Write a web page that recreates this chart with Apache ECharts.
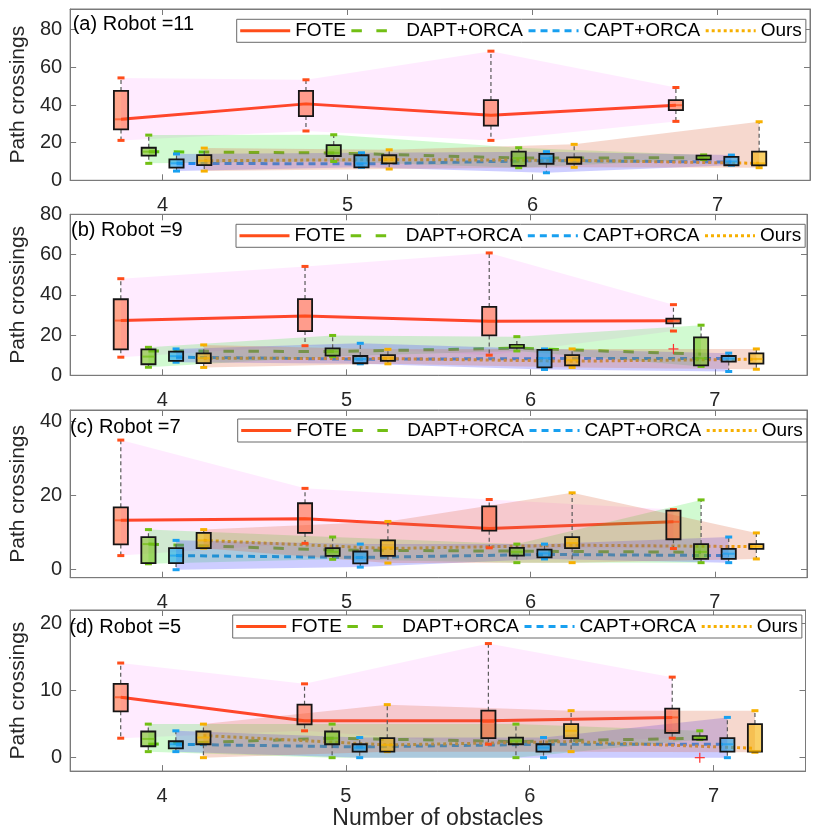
<!DOCTYPE html>
<html><head><meta charset="utf-8">
<script src="https://cdn.jsdelivr.net/npm/echarts@6/dist/echarts.min.js"></script>
<style>html,body{margin:0;padding:0;background:#fff}#c{width:818px;height:831px}</style>
</head><body><div id="c"></div>
<script>
// ---------------- DATA ----------------
const obstacles = [4, 5, 6, 7];
const methods = ['FOTE', 'DAPT+ORCA', 'CAPT+ORCA', 'Ours'];
const panelTitles = ['(a) Robot =11', '(b) Robot =9', '(c) Robot =7', '(d) Robot =5'];
const yTicksA = [0, 20, 40, 60, 80];
const yTicksB = [0, 20, 40, 60, 80];
const yTicksC = [0, 20, 40];
const yTicksD = [0, 10, 20];
const xTicks = [4, 5, 6, 7];

// box statistics per obstacle count: [min, q1, median, q3, max]
const boxA_FOTE = [[21.2, 27, 32.4, 47.5, 54.4], [26.2, 34.1, 40.6, 47.5, 53.4], [21.2, 29, 34.6, 42.6, 68.6], [31.3, 37.3, 39.9, 42.6, 49.3]];
const boxA_DAPT = [[9.0, 13.1, 15.2, 17.3, 24.0], [10, 12.9, 14.6, 18.7, 24.2], [6.7, 7.7, 11.8, 15.2, 17.3], [11, 11.1, 12, 13.1, 13.5]];
const boxA_CAPT = [[4.9, 6.7, 9.0, 11.1, 14], [6.9, 6.9, 9.0, 13.3, 14.6], [4.0, 8.8, 11.7, 14.0, 15.2], [8.0, 8.0, 10, 12.4, 13.4]];
const boxA_OURS = [[4.9, 8.1, 10.4, 13.4, 17.1], [6.0, 9.0, 11.1, 13.3, 16.2], [6.9, 8.8, 10.8, 12.2, 19.1], [6.7, 8.0, 9.0, 15.2, 31.1]];
const lineA_FOTE = [32.4, 40.6, 34.6, 39.9];
const lineA_DAPT = [15.2, 14.5, 11.8, 12.0];
const lineA_CAPT = [9.0, 8.7, 10.5, 9.7];
const lineA_OURS = [10.4, 11.0, 10.6, 9.0];

const boxB_FOTE = [[9.0, 12.9, 27.2, 37.8, 48.0], [14.7, 22.0, 29.5, 37.9, 54.1], [10.0, 19.8, 26.9, 34.0, 60.8], [22.0, 25.8, 27.1, 28.1, 35.1]];
const boxB_DAPT = [[4.0, 5.5, 9.3, 12.9, 13.9], [9.3, 9.8, 11.8, 13.4, 19.8], [12.1, 13.7, 14.4, 15.1, 19.2], [4.4, 4.9, 8.5, 18.8, 24.9]];
const boxB_CAPT = [[6.5, 7.2, 9.5, 11.8, 13.1], [5.7, 6.0, 8.1, 9.6, 15.9], [2.9, 3.9, 8.5, 12.6, 13.1], [1.9, 6.8, 8.3, 9.6, 11.0]];
const boxB_OURS = [[3.9, 6.0, 8.5, 10.9, 15.1], [5.7, 7.2, 8.5, 10.0, 12.9], [3.9, 4.9, 7.5, 10.0, 13.1], [3.0, 5.8, 8.1, 10.9, 13.1]];
const lineB_FOTE = [27.2, 29.5, 26.9, 27.1];
const lineB_DAPT = [12.1, 11.8, 13.5, 10.5];
const lineB_CAPT = [9.0, 8.0, 8.3, 8.3];
const lineB_OURS = [8.5, 8.3, 7.0, 8.0];
const outlierB_FOTE = [[7, 13.1]];

const boxC_FOTE = [[3.8, 6.8, 13.3, 16.8, 34.9], [7.1, 9.9, 13.75, 17.9, 21.9], [5.9, 10.5, 11.1, 17.05, 18.9], [5.7, 8.2, 12.9, 15.9, 16.2]];
const boxC_DAPT = [[1.6, 1.8, 6.9, 8.75, 10.8], [2.8, 3.75, 4.8, 5.8, 8.8], [1.9, 3.8, 4.8, 5.9, 6.9], [1.9, 2.9, 4.8, 6.9, 18.8]];
const boxC_CAPT = [[0, 1.8, 3.8, 5.8, 7.9], [0.7, 1.7, 3.3, 4.9, 6.9], [2.9, 3.3, 4.4, 5.4, 6.9], [1.9, 2.9, 4.3, 5.6, 8.8]];
const boxC_OURS = [[5.8, 5.8, 7.9, 9.9, 10.8], [1.8, 3.75, 6.0, 7.9, 13.0], [1.9, 5.8, 7.2, 8.8, 20.7], [2.9, 5.6, 6.25, 6.9, 9.9]];
const lineC_FOTE = [13.3, 13.75, 11.1, 12.9];
const lineC_DAPT = [6.9, 5.3, 5.0, 4.7];
const lineC_CAPT = [3.8, 3.3, 4.1, 3.8];
const lineC_OURS = [7.9, 5.7, 6.6, 6.2];

const boxD_FOTE = [[2.9, 6.9, 9.0, 11.0, 14.1], [4.0, 4.95, 5.5, 7.9, 11.0], [2.0, 2.9, 5.3, 7.0, 17.0], [2.9, 3.7, 6.0, 7.3, 12.0]];
const boxD_DAPT = [[0.9, 1.7, 2.8, 3.9, 5.0], [0, 2.0, 2.9, 3.9, 5.0], [0, 2.0, 2.5, 3.0, 5.0], [2.7, 2.7, 3.0, 3.2, 4.0]];
const boxD_CAPT = [[0.9, 1.4, 2.0, 2.45, 4.0], [0, 0.9, 1.5, 2.0, 3.0], [0, 0.9, 1.5, 2.0, 3.0], [0, 0.9, 2.0, 2.9, 6.0]];
const boxD_OURS = [[0, 2.0, 3.0, 3.9, 5.0], [0.9, 0.9, 1.9, 2.9, 7.9], [0.9, 2.9, 4.0, 5.0, 7.0], [0.8, 0.9, 1.0, 5.0, 7.0]];
const lineD_FOTE = [9.0, 5.5, 5.5, 6.0];
const lineD_DAPT = [2.0, 2.9, 2.4, 2.9];
const lineD_CAPT = [2.0, 1.6, 2.0, 2.0];
const lineD_OURS = [3.3, 1.9, 2.4, 1.4];
const outlierD_DAPT = [[7, 0]];

// ---------------- LAYOUT / STYLE ----------------
const FONT = '"Liberation Sans", Arial, sans-serif';
const offsets = [-0.225, -0.075, 0.075, 0.225];
const colors = ['#ff4d1a', '#72bf14', '#18a0f0', '#f7b000'];
const boxFill = ['rgba(255,77,26,0.5)', 'rgba(114,191,20,0.6)', 'rgba(24,160,240,0.6)', 'rgba(247,176,0,0.6)'];
const bandFill = ['rgba(255,0,255,0.08)', 'rgba(0,230,0,0.18)', 'rgba(70,70,255,0.27)', 'rgba(220,100,60,0.25)'];
const lineTypes = ['solid', [10.5, 14.5], [7, 5], [3, 3]];
const BOX_W = 0.077, CAP_W = 0.038;

const panels = [
  {grid: {left: 65.7, top: 9, width: 744.3, height: 171.3}, yMin: 0, yMax: 91, yTicks: yTicksA,
   box: [boxA_FOTE, boxA_DAPT, boxA_CAPT, boxA_OURS], line: [lineA_FOTE, lineA_DAPT, lineA_CAPT, lineA_OURS], out: [[], [], [], []],
   leg: [236.7, 19.3], title: [72.7, 24.5]},
  {grid: {left: 63.3, top: 214.3, width: 743.7, height: 161}, yMin: 0, yMax: 80, yTicks: yTicksB,
   box: [boxB_FOTE, boxB_DAPT, boxB_CAPT, boxB_OURS], line: [lineB_FOTE, lineB_DAPT, lineB_CAPT, lineB_OURS], out: [outlierB_FOTE, [], [], []],
   leg: [236, 224.3], title: [71, 230.8]},
  {grid: {left: 62.3, top: 410, width: 744.7, height: 167.7}, yMin: -2.15, yMax: 43, yTicks: yTicksC,
   box: [boxC_FOTE, boxC_DAPT, boxC_CAPT, boxC_OURS], line: [lineC_FOTE, lineC_DAPT, lineC_CAPT, lineC_OURS], out: [[], [], [], []],
   leg: [237.7, 419], title: [70, 427.8]},
  {grid: {left: 62, top: 610, width: 743.5, height: 162.7}, yMin: -2, yMax: 22, yTicks: yTicksD,
   box: [boxD_FOTE, boxD_DAPT, boxD_CAPT, boxD_OURS], line: [lineD_FOTE, lineD_DAPT, lineD_CAPT, lineD_OURS], out: [[], outlierD_DAPT, [], []],
   leg: [232.7, 615], title: [69.3, 627.3]}
];

const frame = '#7a7a7a', txt = '#262626';
const grids = [], xAxes = [], yAxes = [], series = [], legends = [], graphics = [];

panels.forEach((p, gi) => {
  grids.push(Object.assign({show: true, borderColor: frame, borderWidth: 1, backgroundColor: 'transparent'}, p.grid));
  const isLast = gi === panels.length - 1;
  xAxes.push({type: 'value', gridIndex: gi, min: 3.5, max: 7.5, position: 'bottom',
    axisLine: {show: true, onZero: false, lineStyle: {color: frame}},
    axisTick: {show: true, inside: true, length: 6, lineStyle: {color: frame}, customValues: xTicks},
    axisLabel: {show: true, fontSize: 20, fontFamily: FONT, color: txt, margin: 15, customValues: xTicks},
    splitLine: {show: false},
    name: isLast ? 'Number of obstacles' : '', nameLocation: 'middle', nameGap: 31,
    nameTextStyle: {fontSize: 23, fontFamily: FONT, color: txt}});
  xAxes.push({type: 'value', gridIndex: gi, min: 3.5, max: 7.5, position: 'top',
    axisLine: {show: true, onZero: false, lineStyle: {color: frame}},
    axisTick: {show: true, inside: true, length: 6, lineStyle: {color: frame}, customValues: xTicks},
    axisLabel: {show: false}, splitLine: {show: false}});
  yAxes.push({type: 'value', gridIndex: gi, min: p.yMin, max: p.yMax, position: 'left',
    axisLine: {show: true, onZero: false, lineStyle: {color: frame}},
    axisTick: {show: true, inside: true, length: 6, lineStyle: {color: frame}, customValues: p.yTicks},
    axisLabel: {show: true, fontSize: 20, fontFamily: FONT, color: txt, margin: 8, customValues: p.yTicks},
    splitLine: {show: false},
    name: 'Path crossings', nameLocation: 'middle', nameGap: p.grid.left - 27,
    nameTextStyle: {fontSize: 21, fontFamily: FONT, color: txt}});
  yAxes.push({type: 'value', gridIndex: gi, min: p.yMin, max: p.yMax, position: 'right',
    axisLine: {show: true, onZero: false, lineStyle: {color: frame}},
    axisTick: {show: true, inside: true, length: 6, lineStyle: {color: frame}, customValues: p.yTicks},
    axisLabel: {show: false}, splitLine: {show: false}});

  const xi = gi * 2, yi = gi * 2;

  methods.forEach((m, mi) => {
    const off = offsets[mi];
    series.push({type: 'line', name: m, xAxisIndex: xi, yAxisIndex: yi, z: 1,
      data: obstacles.map((x, i) => [x + off, p.line[mi][i]]),
      symbol: 'none', silent: true,
      lineStyle: {color: colors[mi], width: 3, type: lineTypes[mi]},
      itemStyle: {color: colors[mi]}});
  });

  methods.forEach((m, mi) => {
    const off = offsets[mi];
    const bdata = obstacles.map((x, i) => [x + off, p.box[mi][i][0], p.box[mi][i][4]]);
    series.push({type: 'custom', name: m + ' range', xAxisIndex: xi, yAxisIndex: yi, z: 2, silent: true,
      data: bdata,
      renderItem: (params, api) => {
        if (params.dataIndex !== 0) return null;
        const top = bdata.map(d => api.coord([d[0], d[2]]));
        const bot = bdata.map(d => api.coord([d[0], d[1]])).reverse();
        return {type: 'polygon', shape: {points: top.concat(bot)}, style: {fill: bandFill[mi]}};
      }});
  });

  methods.forEach((m, mi) => {
    const off = offsets[mi];
    const data = obstacles.map((x, i) => [x + off].concat(p.box[mi][i]));
    series.push({type: 'custom', name: m + ' box', xAxisIndex: xi, yAxisIndex: yi, z: 3, silent: true,
      data: data,
      encode: {x: 0, y: [1, 2, 3, 4, 5]},
      renderItem: (params, api) => {
        const x = api.value(0);
        const pMin = api.coord([x, api.value(1)]), pQ1 = api.coord([x, api.value(2)]),
              pMd = api.coord([x, api.value(3)]), pQ3 = api.coord([x, api.value(4)]),
              pMx = api.coord([x, api.value(5)]);
        const w = api.size([BOX_W, 0])[0], cw = api.size([CAP_W, 0])[0];
        const cx = pMin[0];
        const dash = {stroke: '#5a5a5a', lineWidth: 1.2, lineDash: [4, 3]};
        return {type: 'group', children: [
          {type: 'line', shape: {x1: cx, y1: pQ3[1], x2: cx, y2: pMx[1]}, style: dash},
          {type: 'line', shape: {x1: cx, y1: pQ1[1], x2: cx, y2: pMin[1]}, style: dash},
          {type: 'rect', shape: {x: cx - cw / 2, y: pMx[1] - 1.5, width: cw, height: 3}, style: {fill: colors[mi]}},
          {type: 'rect', shape: {x: cx - cw / 2, y: pMin[1] - 1.5, width: cw, height: 3}, style: {fill: colors[mi]}},
          {type: 'rect', shape: {x: cx - w / 2, y: pQ3[1], width: w, height: Math.max(pQ1[1] - pQ3[1], 1)},
            style: {fill: boxFill[mi], stroke: '#151515', lineWidth: 1.8}},
          {type: 'line', shape: {x1: cx - w / 2 + 1, y1: pMd[1], x2: cx + w / 2 - 1, y2: pMd[1]},
            style: {stroke: colors[mi], lineWidth: 2, opacity: 0.7}}
        ]};
      }});
    if (p.out[mi].length) {
      series.push({type: 'custom', name: m + ' outlier', xAxisIndex: xi, yAxisIndex: yi, z: 4, silent: true,
        data: p.out[mi].map(d => [d[0] + off, d[1]]),
        renderItem: (params, api) => {
          const c = api.coord([api.value(0), api.value(1)]);
          const s = 5;
          const st = {stroke: '#ff3030', lineWidth: 1.2};
          return {type: 'group', children: [
            {type: 'line', shape: {x1: c[0] - s, y1: c[1], x2: c[0] + s, y2: c[1]}, style: st},
            {type: 'line', shape: {x1: c[0], y1: c[1] - s, x2: c[0], y2: c[1] + s}, style: st}
          ]};
        }});
    }
  });

  legends.push({data: methods, left: p.leg[0], top: p.leg[1], orient: 'horizontal',
    itemWidth: 50, itemHeight: 14, itemGap: 4, padding: [2, 4, 2, 2],
    borderColor: '#6a6a6a', borderWidth: 1, backgroundColor: '#fff', selectedMode: false,
    itemStyle: {opacity: 0, color: 'transparent', borderWidth: 0},
    lineStyle: {width: 3},
    textStyle: {fontSize: 19, fontFamily: FONT, color: '#000'}});

  graphics.push({type: 'text', x: p.title[0], y: p.title[1], z: 10,
    style: {text: panelTitles[gi], font: '20px ' + FONT, fill: '#000', verticalAlign: 'middle', align: 'left'}});
});

const chart = echarts.init(document.getElementById('c'), null, {renderer: 'canvas'});
chart.setOption({
  animation: false,
  backgroundColor: '#fff',
  grid: grids, xAxis: xAxes, yAxis: yAxes, series: series, legend: legends, graphic: graphics
});
</script>
</body></html>
